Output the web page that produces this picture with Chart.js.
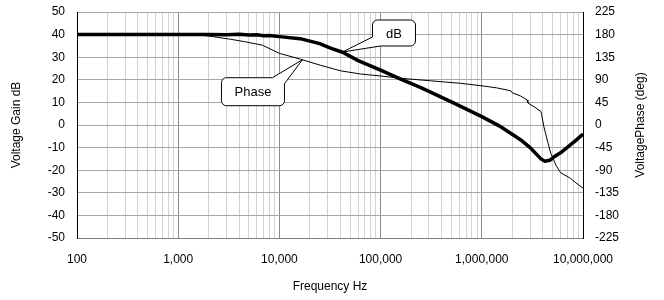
<!DOCTYPE html>
<html>
<head>
	<script src="https://cdn.jsdelivr.net/npm/chart.js@4/dist/chart.umd.min.js"></script>
	<style>
		body { margin: 0; background: #fff; }
	</style>
</head>
<body>
	<canvas id="canvas" width="664" height="300"></canvas>
	<script type="text/javascript">

	// gain curve (thick), frequency in Hz and gain in dB
	var gainFreq = [100, 1000, 2000, 3000, 4000, 5000, 6000, 7000, 8000, 10000, 16000, 25000, 32000, 42000, 60000,
		100000, 158000, 250000, 500000, 1000000, 1500000, 2430000, 3000000, 3840000, 4200000,
		4700000, 5200000, 6000000, 7100000, 8500000, 10000000];
	var gainDb = [40, 40, 40, 39.9, 40.2, 39.8, 39.9, 39.5, 39.6, 39.1, 38.2, 36, 34, 32.2, 28.5,
		24.3, 20.3, 16.5, 10.2, 3.7, -0.5, -6.6, -10, -15, -16,
		-15.6, -14, -12.3, -9.7, -6.8, -4];

	// phase curve (thin), degrees on the right axis
	var phaseFreq = [100, 1000, 1300, 1650, 2200, 3300, 4500, 6800, 10000, 16200, 25400, 40000,
		63000, 100000, 158000, 313000, 619000, 1000000, 1400000, 1940000, 2000000, 2400000,
		2800000, 2850000, 3300000, 3840000, 3900000, 4100000, 4500000, 4800000, 5400000, 6000000,
		7500000, 8500000, 10000000];
	var phaseDeg = [180, 180, 180, 179, 176, 170.7, 166, 159, 142.6, 131, 119, 108,
		101.6, 97.6, 93, 88, 83, 78, 74, 68, 64, 58,
		50, 44, 36, 27, 21, -3, -35, -56, -80, -95,
		-106, -115, -125.6];

	var gainTicks = [-50, -40, -30, -20, -10, 0, 10, 20, 30, 40, 50];
	var phaseTicks = [-225, -180, -135, -90, -45, 0, 45, 90, 135, 180, 225];

	var labelFont = { family: "'Liberation Sans', Arial, sans-serif", size: 12 };

	function isDecade(v) {
		var l = Math.log10(v);
		return Math.abs(l - Math.round(l)) < 1e-9;
	}

	function pairs(xs, ys) {
		var out = [];
		for (var i = 0; i < xs.length; i++) out.push({ x: xs[i], y: ys[i] });
		return out;
	}

	// rounded callout box with a pointer wedge, tip given in pixels
	function drawCallout(ctx, tip, box, text, corner) {
		var l = box.x, t = box.y, r = box.x + box.w, b = box.y + box.h, rad = 5;
		ctx.beginPath();
		if (corner == 'bl') {
			ctx.moveTo(l, b - 9);
			ctx.lineTo(l, t + rad);
			ctx.arcTo(l, t, l + rad, t, rad);
			ctx.lineTo(r - rad, t);
			ctx.arcTo(r, t, r, t + rad, rad);
			ctx.lineTo(r, b - rad);
			ctx.arcTo(r, b, r - rad, b, rad);
			ctx.lineTo(l + 8, b);
			ctx.lineTo(tip.x, tip.y);
			ctx.closePath();
		} else {
			ctx.moveTo(r - 12, t);
			ctx.lineTo(tip.x, tip.y);
			ctx.lineTo(r, t + 6);
			ctx.lineTo(r, b - rad);
			ctx.arcTo(r, b, r - rad, b, rad);
			ctx.lineTo(l + rad, b);
			ctx.arcTo(l, b, l, b - rad, rad);
			ctx.lineTo(l, t + rad);
			ctx.arcTo(l, t, l + rad, t, rad);
			ctx.closePath();
		}
		ctx.fillStyle = '#fff';
		ctx.fill();
		ctx.strokeStyle = '#000';
		ctx.lineWidth = 1;
		ctx.stroke();
		ctx.fillStyle = '#000';
		ctx.font = '13px ' + labelFont.family;
		ctx.textAlign = 'center';
		ctx.textBaseline = 'middle';
		ctx.fillText(text, (l + r) / 2, (t + b) / 2 + 1);
	}

	var extras = {
		id: 'extras',
		afterDraw: function(chart) {
			var ctx = chart.ctx, a = chart.chartArea;
			var sx = chart.scales.x, sy = chart.scales.y, sy2 = chart.scales.y2;
			ctx.save();
			ctx.fillStyle = '#000';
			ctx.font = '12px ' + labelFont.family;
			ctx.textAlign = 'center';
			ctx.textBaseline = 'middle';
			var cy = (a.top + a.bottom) / 2;
			ctx.save();
			ctx.translate(17, cy);
			ctx.rotate(-Math.PI / 2);
			ctx.fillText('Voltage Gain dB', 0, 0);
			ctx.restore();
			ctx.save();
			ctx.translate(641, cy);
			ctx.rotate(-Math.PI / 2);
			ctx.fillText('VoltagePhase (deg)', 0, 0);
			ctx.restore();
			ctx.fillText('Frequency Hz', (a.left + a.right) / 2, 287);

			var tipDb = { x: sx.getPixelForValue(42000), y: sy.getPixelForValue(32.3) };
			drawCallout(ctx, tipDb, { x: tipDb.x + 30, y: tipDb.y - 32, w: 43, h: 26 }, 'dB', 'bl');
			var tipPh = { x: sx.getPixelForValue(16900), y: sy2.getPixelForValue(130) };
			drawCallout(ctx, tipPh, { x: tipPh.x - 81, y: tipPh.y + 18, w: 63, h: 28 }, 'Phase', 'tr');
			ctx.restore();
		}
	};

	function fitY(width) {
		return function(axis) {
			axis.width = width;
			axis.paddingTop = 0;
			axis.paddingBottom = 0;
		};
	}

	var ctx = document.getElementById('canvas').getContext('2d');
	var chart = new Chart(ctx, {
		type: 'line',
		data: {
			datasets: [
				{
					label: 'dB',
					data: pairs(gainFreq, gainDb),
					yAxisID: 'y',
					borderColor: '#000',
					borderWidth: 3.5,
					pointRadius: 0,
					tension: 0
				},
				{
					label: 'Phase',
					data: pairs(phaseFreq, phaseDeg),
					yAxisID: 'y2',
					borderColor: '#000',
					borderWidth: 1,
					pointRadius: 0,
					tension: 0
				}
			]
		},
		options: {
			responsive: false,
			animation: false,
			layout: { padding: { top: 12, left: 0, right: 0, bottom: 0 } },
			plugins: { legend: { display: false }, tooltip: { enabled: false } },
			scales: {
				x: {
					type: 'logarithmic',
					min: 100,
					max: 10000000,
					afterBuildTicks: function(axis) {
						var t = [];
						for (var d = 100; d < 10000000; d *= 10) {
							for (var k = 1; k < 10; k++) t.push({ value: d * k });
						}
						t.push({ value: 10000000 });
						axis.ticks = t;
					},
					afterFit: function(axis) { axis.height = 62; },
					ticks: {
						autoSkip: false,
						maxRotation: 0,
						padding: 14,
						color: '#000',
						font: labelFont,
						callback: function(v) { return isDecade(v) ? Number(v).toLocaleString('en-US') : ''; }
					},
					grid: {
						drawTicks: false,
						color: function(c) { return c.tick && isDecade(c.tick.value) ? '#8c8c8c' : '#d2d2d2'; }
					},
					border: { color: '#808080' }
				},
				y: {
					position: 'left',
					min: -50,
					max: 50,
					afterBuildTicks: function(axis) { axis.ticks = gainTicks.map(function(v) { return { value: v }; }); },
					afterFit: fitY(77),
					ticks: { padding: 12, color: '#000', font: labelFont },
					grid: { drawTicks: false, color: '#a6a6a6' },
					border: { color: '#000' }
				},
				y2: {
					position: 'right',
					min: -225,
					max: 225,
					afterBuildTicks: function(axis) { axis.ticks = phaseTicks.map(function(v) { return { value: v }; }); },
					afterFit: fitY(81),
					ticks: { padding: 12, color: '#000', font: labelFont },
					grid: { drawOnChartArea: false, drawTicks: false },
					border: { color: '#000' }
				}
			}
		},
		plugins: [extras]
	});

	</script>
</body>
</html>
